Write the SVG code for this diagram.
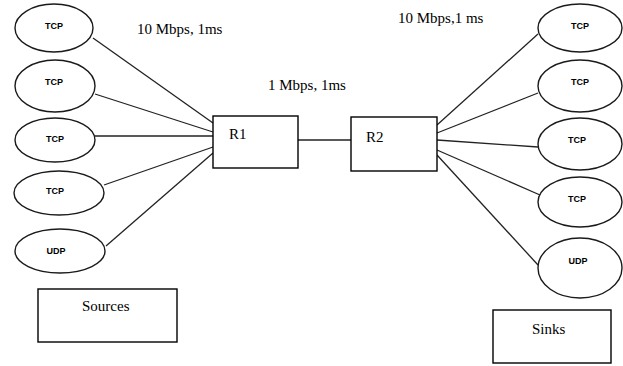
<svg xmlns="http://www.w3.org/2000/svg" width="623" height="366" viewBox="0 0 623 366">
<style>
.n{fill:#fff;stroke:#1a1a1a;stroke-width:1.4}
.b{fill:#fff;stroke:#000;stroke-width:1.4}
.e{stroke:#222;stroke-width:1.3;fill:none}
.t{font-family:"Liberation Sans",Arial,sans-serif;font-size:9px;font-weight:bold;fill:#000;text-anchor:middle}
.s{font-family:"Liberation Serif","Times New Roman",serif;font-size:15px;fill:#000}
</style>
<rect width="623" height="366" fill="#fff"/>
<g id="connectors">
<line class="e" x1="93" y1="38" x2="213" y2="123"/>
<line class="e" x1="95" y1="94" x2="213" y2="132"/>
<line class="e" x1="94" y1="136" x2="213" y2="136"/>
<line class="e" x1="104" y1="185" x2="213" y2="147"/>
<line class="e" x1="106" y1="246" x2="213" y2="153"/>
<line class="e" x1="298" y1="140" x2="351" y2="140"/>
<line class="e" x1="437" y1="125" x2="538" y2="34"/>
<line class="e" x1="437" y1="133" x2="538" y2="93"/>
<line class="e" x1="437" y1="140" x2="538" y2="147"/>
<line class="e" x1="437" y1="150" x2="540" y2="195"/>
<line class="e" x1="437" y1="155" x2="538" y2="265"/>
</g>
<g id="src1"><ellipse class="n" cx="54" cy="28" rx="39" ry="24"/><text class="t" x="54" y="29">TCP</text></g>
<g id="src2"><ellipse class="n" cx="55" cy="86" rx="40" ry="26"/><text class="t" x="54" y="85">TCP</text></g>
<g id="src3"><ellipse class="n" cx="55" cy="140" rx="40" ry="22"/><text class="t" x="55" y="142">TCP</text></g>
<g id="src4"><ellipse class="n" cx="59" cy="193" rx="45" ry="22"/><text class="t" x="55" y="194">TCP</text></g>
<g id="src5"><ellipse class="n" cx="60" cy="251" rx="45" ry="22"/><text class="t" x="56" y="254">UDP</text></g>
<g id="sources"><rect class="b" x="38" y="289" width="139" height="53"/><text class="s" x="82" y="311">Sources</text></g>
<g id="R1"><rect class="b" x="213" y="116" width="85" height="52"/><text class="s" x="229" y="139">R1</text></g>
<g id="R2"><rect class="b" x="351" y="117" width="86" height="54"/><text class="s" x="366" y="142">R2</text></g>
<g id="dst1"><ellipse class="n" cx="580" cy="28" rx="42" ry="24"/><text class="t" x="580" y="29">TCP</text></g>
<g id="dst2"><ellipse class="n" cx="580" cy="86" rx="42" ry="26"/><text class="t" x="580" y="85">TCP</text></g>
<g id="dst3"><ellipse class="n" cx="580" cy="144" rx="42" ry="26"/><text class="t" x="577" y="143">TCP</text></g>
<g id="dst4"><ellipse class="n" cx="580" cy="202" rx="42" ry="25"/><text class="t" x="577" y="202">TCP</text></g>
<g id="dst5"><ellipse class="n" cx="580" cy="268" rx="42" ry="30"/><text class="t" x="578" y="264">UDP</text></g>
<g id="sinks"><rect class="b" x="493" y="310" width="118" height="53"/><text class="s" x="532" y="334">Sinks</text></g>
<g id="labels">
<text class="s" x="137" y="34">10 Mbps, 1ms</text>
<text class="s" x="268" y="90">1 Mbps, 1ms</text>
<text class="s" x="398" y="23">10 Mbps,1 ms</text>
</g>
</svg>
